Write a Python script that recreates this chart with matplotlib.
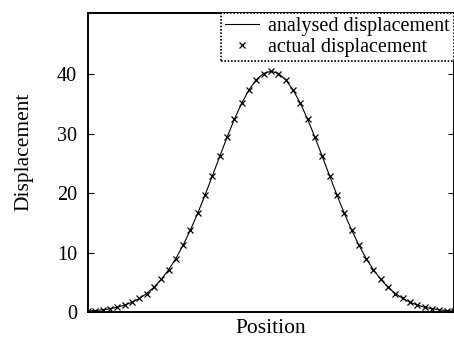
#!/usr/bin/env python3

import matplotlib
matplotlib.use("Agg")
import matplotlib.pyplot as plt
import numpy as np


# values, one per marker along the curve
position = list(range(51))
analysed = [0.16, 0.24, 0.37, 0.55, 0.80, 1.16, 1.64, 2.27, 3.10, 4.16,
            5.48, 7.09, 9.00, 11.26, 13.83, 16.64, 19.71, 22.92, 26.19, 29.41,
            32.44, 35.13, 37.39, 39.08, 40.14, 40.50, 40.14, 39.08, 37.39, 35.13,
            32.44, 29.41, 26.19, 22.92, 19.71, 16.64, 13.83, 11.26, 9.00, 7.09,
            5.48, 4.16, 3.10, 2.27, 1.64, 1.16, 0.80, 0.55, 0.37, 0.24, 0.16]
actual = [0.10, 0.25, 0.40, 0.55, 0.85, 1.20, 1.60, 2.30, 3.10, 4.20,
          5.50, 7.10, 9.00, 11.30, 13.80, 16.60, 19.70, 22.90, 26.20, 29.40,
          32.40, 35.10, 37.40, 39.10, 40.10, 40.50, 40.10, 39.10, 37.40, 35.10,
          32.40, 29.40, 26.20, 22.90, 19.70, 16.60, 13.80, 11.30, 9.00, 7.10,
          5.50, 4.20, 3.10, 2.30, 1.60, 1.20, 0.85, 0.55, 0.40, 0.25, 0.10]
yticks = [0, 10, 20, 30, 40]


def main():

    plt.rcParams['font.family'] = ['Liberation Serif', 'DejaVu Serif']

    fig = plt.figure(figsize=(4.54, 3.45), dpi=100)
    ax = fig.add_axes([88 / 454, 1 - 312 / 345, 366 / 454, 299 / 345])

    ax.plot(position, analysed, color='black', lw=0.8, label='analysed displacement')
    ax.plot(position, actual, ls='none', marker='x', ms=4, mew=0.9,
            color='black', label='actual displacement')

    ax.set_xlim(0, 50)
    ax.set_ylim(0, 50.3)
    ax.set_yticks(yticks)
    ax.set_xticks([])
    ax.tick_params(axis='y', direction='in', length=4, width=0.8,
                   left=True, right=True, pad=8, colors='black', labelsize=14.5)
    for side in ['left', 'top', 'right', 'bottom']:
        ax.spines[side].set_linestyle((0, (1, 1)))
        ax.spines[side].set_linewidth(1.4)

    ax.set_xlabel('Position', fontsize=15.5, labelpad=5)
    ax.set_ylabel('Displacement', fontsize=15.5)
    ax.yaxis.set_label_coords(-0.15, 0.535)

    leg = ax.legend(loc='upper right', borderaxespad=0, fancybox=False,
                    handlelength=1.7, handletextpad=0.45, borderpad=0.2,
                    labelspacing=0.1, fontsize=14.5, framealpha=1)
    leg.get_frame().set_edgecolor('black')
    leg.get_frame().set_linestyle((0, (1, 1)))
    leg.get_frame().set_linewidth(1.2)

    fig.savefig('out.png', dpi=100)


if __name__ == "__main__":
    main()
